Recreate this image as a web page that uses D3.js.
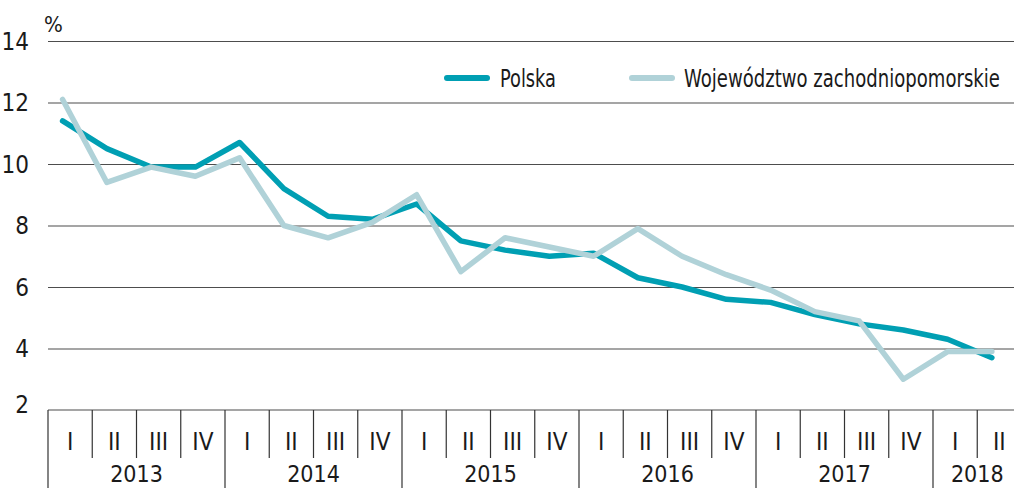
<!DOCTYPE html>
<html>
<head>
<meta charset="utf-8">
<script src="https://cdn.jsdelivr.net/npm/d3@7"></script>
<style>
    body { margin: 0; background: #fff; }
    svg text { font-family: "Liberation Sans Narrow", "DejaVu Sans Condensed", sans-serif; fill: #1a1a1a; }
</style>
</head>
<body>
<div id="chart"></div>
<script>
const years = ["2013", "2014", "2015", "2016", "2017", "2018"];
const quartersPerYear = [4, 4, 4, 4, 4, 2];
const quarterNames = ["I", "II", "III", "IV"];
const yTicks = [2, 4, 6, 8, 10, 12, 14];

const polska = [11.4, 10.5, 9.9, 9.9, 10.7, 9.2, 8.3, 8.2, 8.7, 7.5, 7.2, 7.0,
    7.1, 6.3, 6.0, 5.6, 5.5, 5.1, 4.8, 4.6, 4.3, 3.7];
const zachodniopomorskie = [12.1, 9.4, 9.9, 9.6, 10.2, 8.0, 7.6, 8.1, 9.0, 6.5, 7.6, 7.3,
    7.0, 7.9, 7.0, 6.4, 5.9, 5.2, 4.9, 3.0, 3.9, 3.9];

const seriesList = [
    {name: "Polska", values: polska, color: "#009fb3"},
    {name: "Województwo zachodniopomorskie", values: zachodniopomorskie, color: "#b0d2d8"},
];

function renderChart() {
    const outerWidth = 1014;
    const outerHeight = 488;
    const left = 48;
    const bandStep = 44.25;

    const categories = [];
    years.forEach((year, yi) => {
        for (let q = 0; q < quartersPerYear[yi]; q += 1) {
            categories.push({key: `${year}-${quarterNames[q]}`, year, quarter: quarterNames[q], first: q === 0});
        }
    });
    const keys = categories.map((c) => c.key);

    const svg = d3.select("#chart")
        .append("svg")
        .attr("width", outerWidth)
        .attr("height", outerHeight);

    const x = d3.scaleBand()
        .domain(keys)
        .range([left, left + bandStep * keys.length]);
    const y = d3.scaleLinear()
        .domain([2, 14])
        .range([410, 41]);
    const pointX = (i) => x(keys[i]) + x.bandwidth() * 0.33;

    // gridlines
    svg.append("g")
        .attr("transform", `translate(${left}, 0)`)
        .call(d3.axisLeft(y).tickValues(yTicks.filter((t) => t > 2)).tickSize(-(outerWidth - left)).tickFormat(""))
        .call((g) => g.select(".domain").remove())
        .call((g) => g.selectAll("line").attr("stroke", "#4d4d4d").attr("stroke-width", 1.2));

    // y labels
    svg.append("g")
        .selectAll("text")
        .data(yTicks)
        .enter()
        .append("text")
        .attr("x", 29)
        .attr("y", (d) => y(d) + (d === 2 ? -6 : 0))
        .attr("dy", "0.36em")
        .attr("text-anchor", "end")
        .attr("font-size", 24)
        .text((d) => d);

    svg.append("text")
        .attr("x", 44)
        .attr("y", 32)
        .attr("font-size", 22)
        .text("%");

    // category axis
    const axisY = y(2);
    svg.append("line")
        .attr("x1", left)
        .attr("x2", outerWidth)
        .attr("y1", axisY)
        .attr("y2", axisY)
        .attr("stroke", "#4d4d4d")
        .attr("stroke-width", 1.2);

    const boundaries = categories.map((c) => ({pos: x(c.key), year: c.first}));
    svg.append("g")
        .selectAll("line")
        .data(boundaries)
        .enter()
        .append("line")
        .attr("x1", (d) => d.pos)
        .attr("x2", (d) => d.pos)
        .attr("y1", axisY)
        .attr("y2", (d) => (d.year ? outerHeight : 458))
        .attr("stroke", "#333")
        .attr("stroke-width", 1.2);

    svg.append("g")
        .selectAll("text")
        .data(categories)
        .enter()
        .append("text")
        .attr("x", (d) => x(d.key) + x.bandwidth() / 2)
        .attr("y", 450)
        .attr("text-anchor", "middle")
        .attr("font-size", 24)
        .text((d) => d.quarter);

    svg.append("g")
        .selectAll("text")
        .data(years)
        .enter()
        .append("text")
        .attr("x", (d) => {
            const yearKeys = keys.filter((k) => k.startsWith(d));
            const start = x(yearKeys[0]);
            const end = Math.min(x(yearKeys[yearKeys.length - 1]) + x.bandwidth(), outerWidth + 14);
            return (start + end) / 2;
        })
        .attr("y", 482)
        .attr("text-anchor", "middle")
        .attr("font-size", 23)
        .text((d) => d);

    // lines
    const line = d3.line()
        .x((d, i) => pointX(i))
        .y((d) => y(d));

    seriesList.forEach((s) => {
        svg.append("path")
            .datum(s.values)
            .attr("fill", "none")
            .attr("stroke", s.color)
            .attr("stroke-width", 5.5)
            .attr("stroke-linejoin", "round")
            .attr("stroke-linecap", "round")
            .attr("d", line);
    });

    // legend: text squeezed horizontally to match the narrow original face
    const legendPos = [{lineX: 447, textX: 500, textW: 56}, {lineX: 632, textX: 684, textW: 316}];
    seriesList.forEach((s, i) => {
        const g = svg.append("g").attr("transform", `translate(0, 78)`);
        g.append("line")
            .attr("x1", legendPos[i].lineX)
            .attr("x2", legendPos[i].lineX + 40)
            .attr("stroke", s.color)
            .attr("stroke-width", 6)
            .attr("stroke-linecap", "round");
        const label = g.append("text")
            .attr("dy", "0.36em")
            .attr("font-size", 24)
            .text(s.name);
        const natural = label.node().getComputedTextLength();
        const squeeze = Math.min(1, legendPos[i].textW / natural);
        label.attr("transform", `translate(${legendPos[i].textX}, 0) scale(${squeeze}, 1)`);
    });
}

renderChart();
</script>
</body>
</html>
